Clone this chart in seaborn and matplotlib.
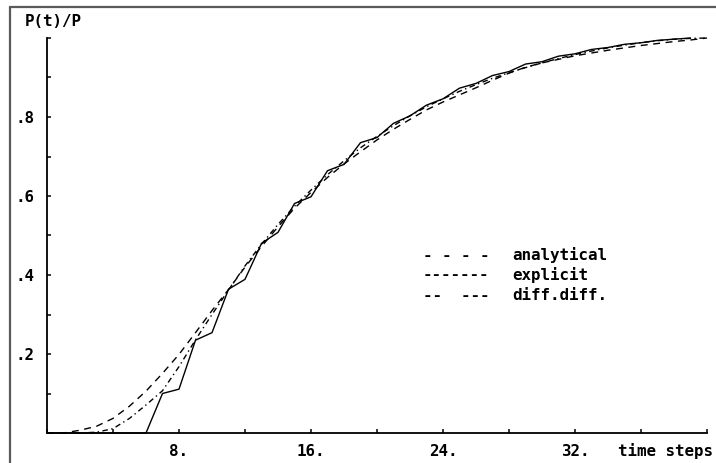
import matplotlib
matplotlib.use("Agg")
import matplotlib.pyplot as plt
from matplotlib.lines import Line2D
import seaborn as sns
import numpy as np

# ---- data ----
t_all = list(range(0, 41))
analytical = [0.000, 0.000, 0.007, 0.017, 0.037, 0.068, 0.106, 0.151, 0.199, 0.254,
              0.310, 0.363, 0.420, 0.472, 0.522, 0.569, 0.609, 0.647, 0.681, 0.712,
              0.742, 0.769, 0.794, 0.818, 0.838, 0.856, 0.874, 0.893, 0.911, 0.926,
              0.937, 0.946, 0.955, 0.962, 0.969, 0.975, 0.981, 0.986, 0.991, 0.995,
              1.000]
t_explicit = list(range(0, 40))
explicit = [0.000, 0.000, 0.000, 0.000, 0.000, 0.000, 0.000, 0.100, 0.111, 0.235,
            0.254, 0.364, 0.389, 0.480, 0.508, 0.581, 0.598, 0.664, 0.680, 0.735,
            0.748, 0.784, 0.803, 0.830, 0.846, 0.873, 0.885, 0.905, 0.915, 0.934,
            0.940, 0.954, 0.960, 0.971, 0.976, 0.984, 0.988, 0.994, 0.997, 1.000]
diffdiff = [0.000, 0.000, 0.000, 0.002, 0.011, 0.037, 0.071, 0.107, 0.168, 0.236,
            0.300, 0.362, 0.423, 0.478, 0.528, 0.574, 0.615, 0.654, 0.689, 0.722,
            0.751, 0.778, 0.803, 0.826, 0.846, 0.865, 0.882, 0.898, 0.912, 0.925,
            0.937, 0.948, 0.958, 0.967, 0.975, 0.982, 0.988, 0.993, 0.997, 0.999,
            1.000]
x_ticks = [0, 4, 8, 12, 16, 20, 24, 28, 32, 36, 40]
x_tick_labels = ["", "", "8.", "", "16.", "", "24.", "", "32.", "", ""]
y_ticks = [0.0, 0.1, 0.2, 0.3, 0.4, 0.5, 0.6, 0.7, 0.8, 0.9, 1.0]
y_tick_labels = ["", "", ".2", "", ".4", "", ".6", "", ".8", "", ""]
legend_rows = [("- - - -", "analytical"), ("-------", "explicit"), ("--  ---", "diff.diff.")]

sns.set_theme(style="white")
plt.rcParams["font.family"] = ["DejaVu Sans Mono", "DejaVu Sans"]
plt.rcParams["font.weight"] = "bold"

W, H = 716, 463
fig = plt.figure(figsize=(W / 100, H / 100), dpi=100)
fig.patch.set_facecolor("white")
ax = fig.add_axes([47 / W, 1 - 433 / H, 660 / W, 395 / H])
ax.set_facecolor("white")

sns.lineplot(x=t_all, y=analytical, ax=ax, color="black", lw=1.0)
sns.lineplot(x=t_explicit, y=explicit, ax=ax, color="black", lw=1.0)
sns.lineplot(x=t_all, y=diffdiff, ax=ax, color="black", lw=1.0)
styles = [(0, (5, 4)), "-", (0, (4, 2.5, 1, 2.5))]
for ln, ls in zip(ax.lines, styles):
    ln.set_linestyle(ls)
    ln.set_clip_on(False)

ax.set_xlim(0, 40)
ax.set_ylim(0, 1.0)
for s in ["top", "right"]:
    ax.spines[s].set_visible(False)
for s in ["left", "bottom"]:
    ax.spines[s].set_color("black")
    ax.spines[s].set_linewidth(1.3)
ax.set_xticks(x_ticks)
ax.set_xticklabels(x_tick_labels)
ax.set_yticks(y_ticks)
ax.set_yticklabels(y_tick_labels)
ax.tick_params(axis="both", which="major", bottom=True, left=True, top=False, right=False,
               direction="in", length=3, width=1.1, color="black",
               labelsize=11.4, labelcolor="black")
ax.tick_params(axis="x", pad=8)
ax.tick_params(axis="y", pad=9)
for lab in ax.get_xticklabels() + ax.get_yticklabels():
    lab.set_fontweight("bold")
ax.set_xlabel("")
ax.set_ylabel("")

# titles as text
fig.text(25 / W, 1 - 22 / H, "P(t)/P", ha="left", va="center", fontsize=11.4,
         fontweight="bold", color="black")
fig.text(713 / W, 1 - 451 / H, "time steps", ha="right", va="center", fontsize=11.4,
         fontweight="bold", color="black")

# text legend
for i, (sym, name) in enumerate(legend_rows):
    y = 1 - (255 + 20 * i) / H
    fig.text(423 / W, y, sym, ha="left", va="center", fontsize=11.4,
             fontweight="bold", color="black")
    fig.text(512 / W, y, name, ha="left", va="center", fontsize=11.4,
             fontweight="bold", color="black")

# window frame lines (top and left)
fig.add_artist(Line2D([10 / W, 1.0], [1 - 7 / H, 1 - 7 / H], color="#5a5a5a", lw=1.6,
                      transform=fig.transFigure))
fig.add_artist(Line2D([10 / W, 10 / W], [0.0, 1 - 7 / H], color="#5a5a5a", lw=1.6,
                      transform=fig.transFigure))

fig.savefig("out.png", dpi=100, facecolor="white")
